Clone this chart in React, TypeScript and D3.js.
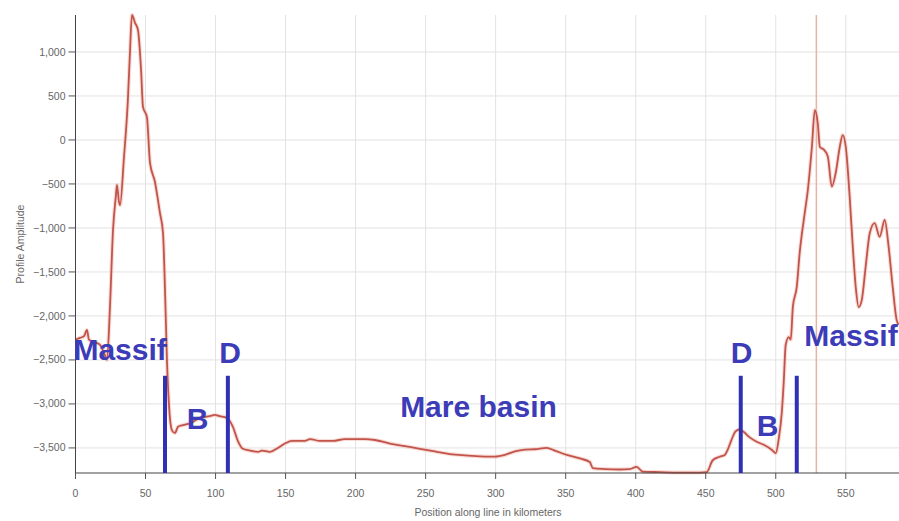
import React from "react";
import * as d3 from "d3";

const positionsKm: number[] = [
  0, 3.2, 6.1, 8.2, 9.6, 13.9, 17.5, 21.1, 22.5, 24.6, 26.8, 28.9, 29.6, 31.0, 31.8, 34.6, 37.4, 38.9, 40.3, 42.5,
  44.6, 46.8, 48.2, 51.0, 53.2, 56.7, 60.3, 62.5, 63.9, 65.3, 66.7, 68.9, 71.0, 73.2, 76.7, 81.7, 88.8, 95.9, 99.5,
  103.1, 106.6, 109.5, 112.4, 115.9, 119.5, 124.6, 130.3, 133.1, 138.8, 144.5, 149.5, 154.5, 163.8, 167.4, 174.5,
  183.8, 192.4, 199.5, 206.6, 213.8, 224.5, 235.2, 245.9, 256.6, 267.3, 278.0, 288.7, 299.4, 306.6, 313.7, 320.9,
  328.0, 336.5, 342.2, 350.8, 360.1, 367.2, 369.4, 377.9, 388.6, 395.7, 400.7, 405.0, 417.2, 431.4, 445.7, 450.7,
  455.0, 460.0, 463.6, 465.7, 468.6, 471.4, 474.3, 477.2, 481.4, 486.4, 492.1, 497.1, 500.0, 502.1, 504.3, 505.7,
  507.1, 509.3, 510.7, 512.2, 515.0, 517.1, 520.7, 522.9, 525.8, 527.9, 530.0, 531.5, 534.3, 537.2, 540.0, 542.8,
  545.7, 547.8, 550.0, 552.8, 555.0, 557.1, 559.2, 561.4, 564.2, 567.1, 570.6, 574.2, 577.8, 580.6, 583.5, 586.3,
  587.7,
];

const amplitudes: number[] = [
  -2270, -2250, -2230, -2160, -2270, -2300, -2330, -2450, -2500, -1900, -1020, -625, -510, -700, -740, -200, 455,
  1000, 1420, 1330, 1250, 800, 375, 260, -260, -475, -830, -1060, -1700, -2500, -3000, -3300, -3330, -3260, -3240,
  -3220, -3160, -3140, -3125, -3140, -3150, -3180, -3260, -3420, -3510, -3530, -3545, -3530, -3545, -3500, -3450,
  -3420, -3420, -3400, -3420, -3420, -3400, -3400, -3400, -3410, -3450, -3480, -3510, -3540, -3570, -3585, -3595,
  -3600, -3580, -3540, -3520, -3515, -3500, -3530, -3580, -3620, -3660, -3730, -3740, -3745, -3740, -3715, -3770,
  -3775, -3780, -3780, -3775, -3640, -3600, -3580, -3520, -3400, -3310, -3290, -3320, -3380, -3430, -3470, -3520,
  -3560, -3400, -3100, -2750, -2330, -2240, -2270, -1900, -1670, -1280, -830, -570, -80, 340, 190, -80, -110, -190,
  -530, -375, -80, 55, -80, -650, -1215, -1670, -1900, -1820, -1440, -1060, -945, -1100, -910, -1215, -1670, -2045,
  -2100,
];

const xTicks: number[] = [0, 50, 100, 150, 200, 250, 300, 350, 400, 450, 500, 550];
const yTicks: number[] = [-3500, -3000, -2500, -2000, -1500, -1000, -500, 0, 500, 1000];

const xDomain: [number, number] = [0, 588];
const yDomain: [number, number] = [-3785, 1420];

const markerKm: number[] = [63.9, 108.8, 475, 515];
const markerTop = -2680;
const redLineKm = 529;

const labelTexts: string[] = ["Massif", "D", "B", "Mare basin", "D", "B", "Massif"];
const labelKm: number[] = [-1.5, 110.4, 87.2, 231.8, 475.6, 494.2, 520.4];
const labelVal: number[] = [-2500, -2540, -3290, -3150, -2540, -3360, -2340];
const labelAnchor: string[] = ["start", "middle", "middle", "start", "middle", "middle", "start"];

const xTitle = "Position along line in kilometers";
const yTitle = "Profile Amplitude";

export default function App() {
  const W = 899;
  const H = 521;
  const x = d3.scaleLinear().domain(xDomain).range([75.5, 899]);
  const y = d3.scaleLinear().domain(yDomain).range([473, 15]);
  const fmt = d3.format(",");
  const data = positionsKm.map((k, i) => [k, amplitudes[i]] as [number, number]);
  const line = d3
    .line<[number, number]>()
    .x((d) => x(d[0]))
    .y((d) => y(d[1]))
    .curve(d3.curveMonotoneX);
  const path = line(data) || "";
  const bottom = y(yDomain[0]);
  const top = y(yDomain[1]);
  const left = x(0);
  const right = x(xDomain[1]);
  const font = "Liberation Sans, Arial, sans-serif";

  return (
    <svg
      width={W}
      height={H}
      style={{ position: "absolute", left: 0, top: 0, display: "block", background: "#fff" }}
    >
      {/* grid */}
      {xTicks.map((t) => (
        <line key={"gx" + t} x1={x(t)} x2={x(t)} y1={top} y2={bottom} stroke="#e2e2e2" strokeWidth={1} />
      ))}
      {yTicks.map((t) => (
        <line key={"gy" + t} x1={left} x2={right} y1={y(t)} y2={y(t)} stroke="#e2e2e2" strokeWidth={1} />
      ))}
      <line x1={x(redLineKm)} x2={x(redLineKm)} y1={top} y2={bottom} stroke="#e8b2a6" strokeWidth={1.5} />

      {/* profile line */}
      <path d={path} fill="none" stroke="#f3c4bc" strokeWidth={4} strokeOpacity={0.6} />
      <path d={path} fill="none" stroke="#c2554b" strokeWidth={1.8} strokeLinejoin="round" />

      {/* axes */}
      <line x1={left} x2={left} y1={top} y2={bottom} stroke="#444" strokeWidth={1} />
      <line x1={left} x2={right} y1={bottom} y2={bottom} stroke="#444" strokeWidth={1} />
      {yTicks.map((t) => (
        <g key={"yt" + t}>
          <line x1={left - 7} x2={left} y1={y(t)} y2={y(t)} stroke="#555" />
          <text
            x={left - 10}
            y={y(t)}
            dy="0.34em"
            textAnchor="end"
            fontSize={10.5}
            fontFamily={font}
            fill="#666"
          >
            {fmt(t)}
          </text>
        </g>
      ))}
      {xTicks.map((t) => (
        <g key={"xt" + t}>
          <line x1={x(t)} x2={x(t)} y1={bottom} y2={bottom + 6} stroke="#555" />
          <text x={x(t)} y={bottom + 24} textAnchor="middle" fontSize={10.5} fontFamily={font} fill="#666">
            {fmt(t)}
          </text>
        </g>
      ))}
      <text x={488} y={516} textAnchor="middle" fontSize={10.5} fontFamily={font} fill="#666">
        {xTitle}
      </text>
      <text
        transform={`translate(24, 244) rotate(-90)`}
        textAnchor="middle"
        fontSize={10.5}
        fontFamily={font}
        fill="#666"
      >
        {yTitle}
      </text>

      {/* markers */}
      {markerKm.map((k, i) => (
        <line key={"m" + i} x1={x(k)} x2={x(k)} y1={y(markerTop)} y2={bottom} stroke="#3030b4" strokeWidth={4} />
      ))}
      {labelTexts.map((t, i) => (
        <text
          key={"l" + i}
          x={x(labelKm[i])}
          y={y(labelVal[i])}
          textAnchor={labelAnchor[i]}
          fontSize={30}
          fontWeight="bold"
          fontFamily={font}
          fill="#3c3cb8"
        >
          {t}
        </text>
      ))}
    </svg>
  );
}
